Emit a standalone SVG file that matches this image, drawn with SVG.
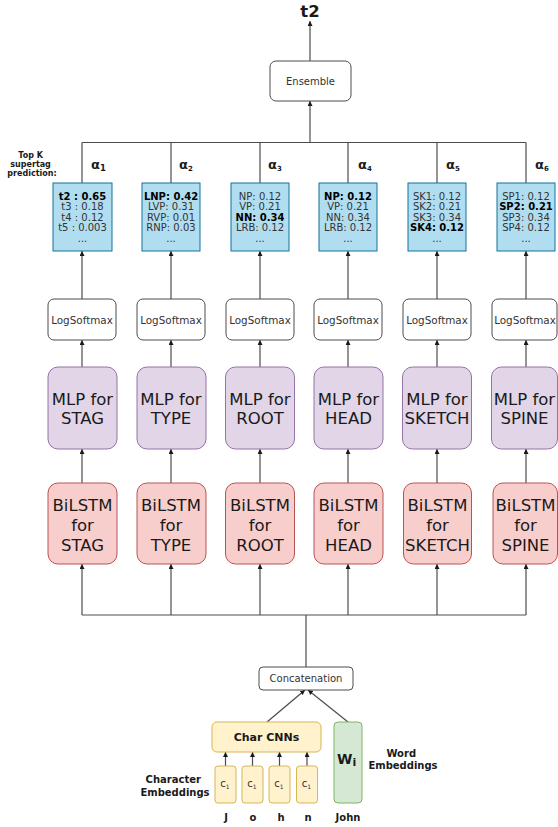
<svg xmlns="http://www.w3.org/2000/svg" width="558" height="827" viewBox="0 0 558 827">
  <style>
    text { font-family: "DejaVu Sans", Verdana, sans-serif; }
    .wire { fill: none; stroke: #4d4d4d; stroke-width: 1.2; }
    .arrow { marker-end: url(#head); }
    .prob { fill: #b1ddf0; stroke: #10739e; stroke-width: 1; }
    .plain { fill: #ffffff; stroke: #4d4d4d; stroke-width: 1; }
    .mlp { fill: #e1d5e7; stroke: #9673a6; stroke-width: 1; }
    .lstm { fill: #f8cecc; stroke: #b85450; stroke-width: 1; }
    .yellow { fill: #fff2cc; stroke: #d6b656; stroke-width: 1; }
    .green { fill: #d5e8d4; stroke: #82b366; stroke-width: 1; }
    .pt { font-size: 10px; fill: #333333; text-anchor: middle; }
    .pt .b { font-weight: bold; fill: #000000; }
    .small { font-size: 10px; fill: #333333; text-anchor: middle; }
    .lsm { font-size: 10.4px; }
    .big { font-size: 16.5px; fill: #1a1a1a; text-anchor: middle; }
    .bold { font-weight: bold; fill: #1a1a1a; }
    .alpha { font-size: 13px; font-weight: bold; fill: #1a1a1a; }
  </style>
  <defs>
    <marker id="head" viewBox="0 0 10 10" refX="10" refY="5" markerWidth="5" markerHeight="5" markerUnits="userSpaceOnUse" orient="auto">
      <path d="M0,0 L10,5 L0,10 z" fill="#1a1a1a"/>
    </marker>
  </defs>

  <rect width="558" height="827" fill="#ffffff"/>

  <!-- connectors -->
  <g id="connectors">
    <!-- output of ensemble -->
    <line class="wire arrow" x1="310" y1="61" x2="310" y2="21"/>
    <!-- top bus gathering the six predictions -->
    <line class="wire" x1="82" y1="142.5" x2="526" y2="142.5"/>
    <line class="wire arrow" x1="310" y1="142.5" x2="310" y2="101"/>
    <line class="wire" x1="82" y1="183" x2="82" y2="142.5"/>
    <line class="wire" x1="171" y1="183" x2="171" y2="142.5"/>
    <line class="wire" x1="260" y1="183" x2="260" y2="142.5"/>
    <line class="wire" x1="348" y1="183" x2="348" y2="142.5"/>
    <line class="wire" x1="437" y1="183" x2="437" y2="142.5"/>
    <line class="wire" x1="526" y1="183" x2="526" y2="142.5"/>
    <!-- logsoftmax to predictions -->
    <line class="wire arrow" x1="82" y1="299" x2="82" y2="251"/>
    <line class="wire arrow" x1="171" y1="299" x2="171" y2="251"/>
    <line class="wire arrow" x1="260" y1="299" x2="260" y2="251"/>
    <line class="wire arrow" x1="348" y1="299" x2="348" y2="251"/>
    <line class="wire arrow" x1="437" y1="299" x2="437" y2="251"/>
    <line class="wire arrow" x1="526" y1="299" x2="526" y2="251"/>
    <!-- mlp to logsoftmax -->
    <line class="wire arrow" x1="82" y1="367" x2="82" y2="340"/>
    <line class="wire arrow" x1="171" y1="367" x2="171" y2="340"/>
    <line class="wire arrow" x1="260" y1="367" x2="260" y2="340"/>
    <line class="wire arrow" x1="348" y1="367" x2="348" y2="340"/>
    <line class="wire arrow" x1="437" y1="367" x2="437" y2="340"/>
    <line class="wire arrow" x1="526" y1="367" x2="526" y2="340"/>
    <!-- bilstm to mlp -->
    <line class="wire arrow" x1="82" y1="483" x2="82" y2="449"/>
    <line class="wire arrow" x1="171" y1="483" x2="171" y2="449"/>
    <line class="wire arrow" x1="260" y1="483" x2="260" y2="449"/>
    <line class="wire arrow" x1="348" y1="483" x2="348" y2="449"/>
    <line class="wire arrow" x1="437" y1="483" x2="437" y2="449"/>
    <line class="wire arrow" x1="526" y1="483" x2="526" y2="449"/>
    <!-- bottom bus feeding the six encoders -->
    <line class="wire" x1="82" y1="615" x2="526" y2="615"/>
    <line class="wire" x1="306" y1="667" x2="306" y2="615"/>
    <line class="wire arrow" x1="82" y1="615" x2="82" y2="564"/>
    <line class="wire arrow" x1="171" y1="615" x2="171" y2="564"/>
    <line class="wire arrow" x1="260" y1="615" x2="260" y2="564"/>
    <line class="wire arrow" x1="348" y1="615" x2="348" y2="564"/>
    <line class="wire arrow" x1="437" y1="615" x2="437" y2="564"/>
    <line class="wire arrow" x1="526" y1="615" x2="526" y2="564"/>
    <!-- inputs to concatenation -->
    <line class="wire arrow" x1="267" y1="722" x2="305" y2="690"/>
    <line class="wire arrow" x1="348" y1="722" x2="308" y2="690"/>
    <!-- characters to char CNNs -->
    <line class="wire arrow" x1="225.5" y1="766" x2="225.5" y2="752"/>
    <line class="wire arrow" x1="252.5" y1="766" x2="252.5" y2="752"/>
    <line class="wire arrow" x1="279.5" y1="766" x2="279.5" y2="752"/>
    <line class="wire arrow" x1="307" y1="766" x2="307" y2="752"/>
  </g>

  <!-- output label -->
  <text x="310" y="17" font-size="16.5" class="bold" text-anchor="middle">t2</text>

  <g id="ensemble">
    <rect class="plain" x="270" y="61" width="81" height="40" rx="6"/>
    <text class="small" x="310.5" y="85" font-size="11.5">Ensemble</text>
  </g>

  <text class="bold" font-size="8" text-anchor="middle">
    <tspan x="32" y="158">Top K</tspan>
    <tspan x="32" y="167">supertag</tspan>
    <tspan x="32" y="176">prediction:</tspan>
  </text>

  <!-- mixture weights -->
  <g id="weights">
    <text class="alpha" x="91" y="169">α<tspan font-size="8.5" dy="2">1</tspan></text>
    <text class="alpha" x="179" y="169">α<tspan font-size="7" dy="1.5">2</tspan></text>
    <text class="alpha" x="268" y="169">α<tspan font-size="7" dy="1.5">3</tspan></text>
    <text class="alpha" x="358" y="169">α<tspan font-size="7" dy="1.5">4</tspan></text>
    <text class="alpha" x="446" y="169">α<tspan font-size="7" dy="1.5">5</tspan></text>
    <text class="alpha" x="535" y="169">α<tspan font-size="7" dy="1.5">6</tspan></text>
  </g>

  <!-- top-k prediction boxes -->
  <g id="pred-stag">
    <rect class="prob" x="53" y="183" width="59" height="68"/>
    <text class="pt"><tspan class="b" x="82.5" y="199.5">t2 : 0.65</tspan><tspan x="82.5" y="210">t3 : 0.18</tspan><tspan x="82.5" y="220.5">t4 : 0.12</tspan><tspan x="82.5" y="231">t5 : 0.003</tspan><tspan x="82.5" y="242">...</tspan></text>
  </g>
  <g id="pred-type">
    <rect class="prob" x="142" y="183" width="58" height="68"/>
    <text class="pt"><tspan class="b" x="171" y="199.5">LNP: 0.42</tspan><tspan x="171" y="210">LVP: 0.31</tspan><tspan x="171" y="220.5">RVP: 0.01</tspan><tspan x="171" y="231">RNP: 0.03</tspan><tspan x="171" y="242">...</tspan></text>
  </g>
  <g id="pred-root">
    <rect class="prob" x="231" y="183" width="58" height="68"/>
    <text class="pt"><tspan x="260" y="199.5">NP: 0.12</tspan><tspan x="260" y="210">VP: 0.21</tspan><tspan class="b" x="260" y="220.5">NN: 0.34</tspan><tspan x="260" y="231">LRB: 0.12</tspan><tspan x="260" y="242">...</tspan></text>
  </g>
  <g id="pred-head">
    <rect class="prob" x="319" y="183" width="58" height="68"/>
    <text class="pt"><tspan class="b" x="348" y="199.5">NP: 0.12</tspan><tspan x="348" y="210">VP: 0.21</tspan><tspan x="348" y="220.5">NN: 0.34</tspan><tspan x="348" y="231">LRB: 0.12</tspan><tspan x="348" y="242">...</tspan></text>
  </g>
  <g id="pred-sketch">
    <rect class="prob" x="408" y="183" width="58" height="68"/>
    <text class="pt"><tspan x="437" y="199.5">SK1: 0.12</tspan><tspan x="437" y="210">SK2: 0.21</tspan><tspan x="437" y="220.5">SK3: 0.34</tspan><tspan class="b" x="437" y="231">SK4: 0.12</tspan><tspan x="437" y="242">...</tspan></text>
  </g>
  <g id="pred-spine">
    <rect class="prob" x="497" y="183" width="58" height="68"/>
    <text class="pt"><tspan x="526" y="199.5">SP1: 0.12</tspan><tspan class="b" x="526" y="210">SP2: 0.21</tspan><tspan x="526" y="220.5">SP3: 0.34</tspan><tspan x="526" y="231">SP4: 0.12</tspan><tspan x="526" y="242">...</tspan></text>
  </g>

  <!-- LogSoftmax layers -->
  <g id="lsm-stag"><rect class="plain" x="48" y="299" width="68" height="41" rx="6"/><text class="small lsm" x="82" y="323.5">LogSoftmax</text></g>
  <g id="lsm-type"><rect class="plain" x="137" y="299" width="68" height="41" rx="6"/><text class="small lsm" x="171" y="323.5">LogSoftmax</text></g>
  <g id="lsm-root"><rect class="plain" x="226" y="299" width="68" height="41" rx="6"/><text class="small lsm" x="260" y="323.5">LogSoftmax</text></g>
  <g id="lsm-head"><rect class="plain" x="314" y="299" width="68" height="41" rx="6"/><text class="small lsm" x="348" y="323.5">LogSoftmax</text></g>
  <g id="lsm-sketch"><rect class="plain" x="403" y="299" width="68" height="41" rx="6"/><text class="small lsm" x="437" y="323.5">LogSoftmax</text></g>
  <g id="lsm-spine"><rect class="plain" x="492" y="299" width="65" height="41" rx="6"/><text class="small lsm" x="525" y="323.5">LogSoftmax</text></g>

  <!-- MLP heads -->
  <g id="mlp-stag"><rect class="mlp" x="48" y="367" width="69" height="82" rx="10"/><text class="big"><tspan x="82.5" y="405">MLP for</tspan><tspan x="82.5" y="424">STAG</tspan></text></g>
  <g id="mlp-type"><rect class="mlp" x="137" y="367" width="69" height="82" rx="10"/><text class="big"><tspan x="171" y="405">MLP for</tspan><tspan x="171" y="424">TYPE</tspan></text></g>
  <g id="mlp-root"><rect class="mlp" x="225.5" y="367" width="69" height="82" rx="10"/><text class="big"><tspan x="260" y="405">MLP for</tspan><tspan x="260" y="424">ROOT</tspan></text></g>
  <g id="mlp-head"><rect class="mlp" x="314" y="367" width="69" height="82" rx="10"/><text class="big"><tspan x="348.5" y="405">MLP for</tspan><tspan x="348.5" y="424">HEAD</tspan></text></g>
  <g id="mlp-sketch"><rect class="mlp" x="402.5" y="367" width="69" height="82" rx="10"/><text class="big"><tspan x="437" y="405">MLP for</tspan><tspan x="437" y="424">SKETCH</tspan></text></g>
  <g id="mlp-spine"><rect class="mlp" x="491.5" y="367" width="66" height="82" rx="10"/><text class="big"><tspan x="524.5" y="405">MLP for</tspan><tspan x="524.5" y="424">SPINE</tspan></text></g>

  <!-- BiLSTM encoders -->
  <g id="lstm-stag"><rect class="lstm" x="48" y="483" width="69" height="81" rx="10"/><text class="big" font-size="17"><tspan x="82.5" y="511">BiLSTM</tspan><tspan x="82.5" y="531">for</tspan><tspan x="82.5" y="551">STAG</tspan></text></g>
  <g id="lstm-type"><rect class="lstm" x="137" y="483" width="69" height="81" rx="10"/><text class="big" font-size="17"><tspan x="171" y="511">BiLSTM</tspan><tspan x="171" y="531">for</tspan><tspan x="171" y="551">TYPE</tspan></text></g>
  <g id="lstm-root"><rect class="lstm" x="225.5" y="483" width="69" height="81" rx="10"/><text class="big" font-size="17"><tspan x="260" y="511">BiLSTM</tspan><tspan x="260" y="531">for</tspan><tspan x="260" y="551">ROOT</tspan></text></g>
  <g id="lstm-head"><rect class="lstm" x="314" y="483" width="69" height="81" rx="10"/><text class="big" font-size="17"><tspan x="348.5" y="511">BiLSTM</tspan><tspan x="348.5" y="531">for</tspan><tspan x="348.5" y="551">HEAD</tspan></text></g>
  <g id="lstm-sketch"><rect class="lstm" x="403.5" y="483" width="68" height="81" rx="10"/><text class="big" font-size="17"><tspan x="437.5" y="511">BiLSTM</tspan><tspan x="437.5" y="531">for</tspan><tspan x="437.5" y="551">SKETCH</tspan></text></g>
  <g id="lstm-spine"><rect class="lstm" x="493" y="483" width="64.5" height="81" rx="10"/><text class="big" font-size="17"><tspan x="525.5" y="511">BiLSTM</tspan><tspan x="525.5" y="531">for</tspan><tspan x="525.5" y="551">SPINE</tspan></text></g>

  <!-- input layer -->
  <g id="concatenation">
    <rect class="plain" x="259" y="667" width="94" height="23" rx="4"/>
    <text class="small" x="306" y="682">Concatenation</text>
  </g>

  <g id="char-cnns">
    <rect class="yellow" x="212" y="722" width="109" height="30" rx="5"/>
    <text class="bold" x="266.5" y="741" font-size="11" text-anchor="middle">Char CNNs</text>
  </g>

  <g id="word-embedding">
    <rect class="green" x="334" y="722" width="28" height="81" rx="4"/>
    <text class="bold" x="337" y="764" font-size="14">W<tspan font-size="11" dy="2">i</tspan></text>
  </g>

  <g id="char-j"><rect class="yellow" x="215" y="766" width="21" height="37" rx="3"/><text class="small" font-size="8" x="225" y="787">c<tspan font-size="6" dy="1.5">1</tspan></text></g>
  <g id="char-o"><rect class="yellow" x="242" y="766" width="21" height="37" rx="3"/><text class="small" font-size="8" x="252" y="787">c<tspan font-size="6" dy="1.5">1</tspan></text></g>
  <g id="char-h"><rect class="yellow" x="269" y="766" width="21" height="37" rx="3"/><text class="small" font-size="8" x="279" y="787">c<tspan font-size="6" dy="1.5">1</tspan></text></g>
  <g id="char-n"><rect class="yellow" x="296.5" y="766" width="21" height="37" rx="3"/><text class="small" font-size="8" x="306.5" y="787">c<tspan font-size="6" dy="1.5">1</tspan></text></g>

  <text class="bold" font-size="10" text-anchor="middle">
    <tspan x="175" y="783">Character</tspan>
    <tspan x="175" y="796">Embeddings</tspan>
  </text>
  <text class="bold" font-size="10" text-anchor="middle">
    <tspan x="403" y="757">Word</tspan>
    <tspan x="403" y="769">Embeddings</tspan>
  </text>

  <g class="bold" font-size="10" text-anchor="middle">
    <text x="226" y="821">J</text>
    <text x="253" y="821">o</text>
    <text x="281" y="821">h</text>
    <text x="308" y="821">n</text>
    <text x="348" y="821">John</text>
  </g>
</svg>
